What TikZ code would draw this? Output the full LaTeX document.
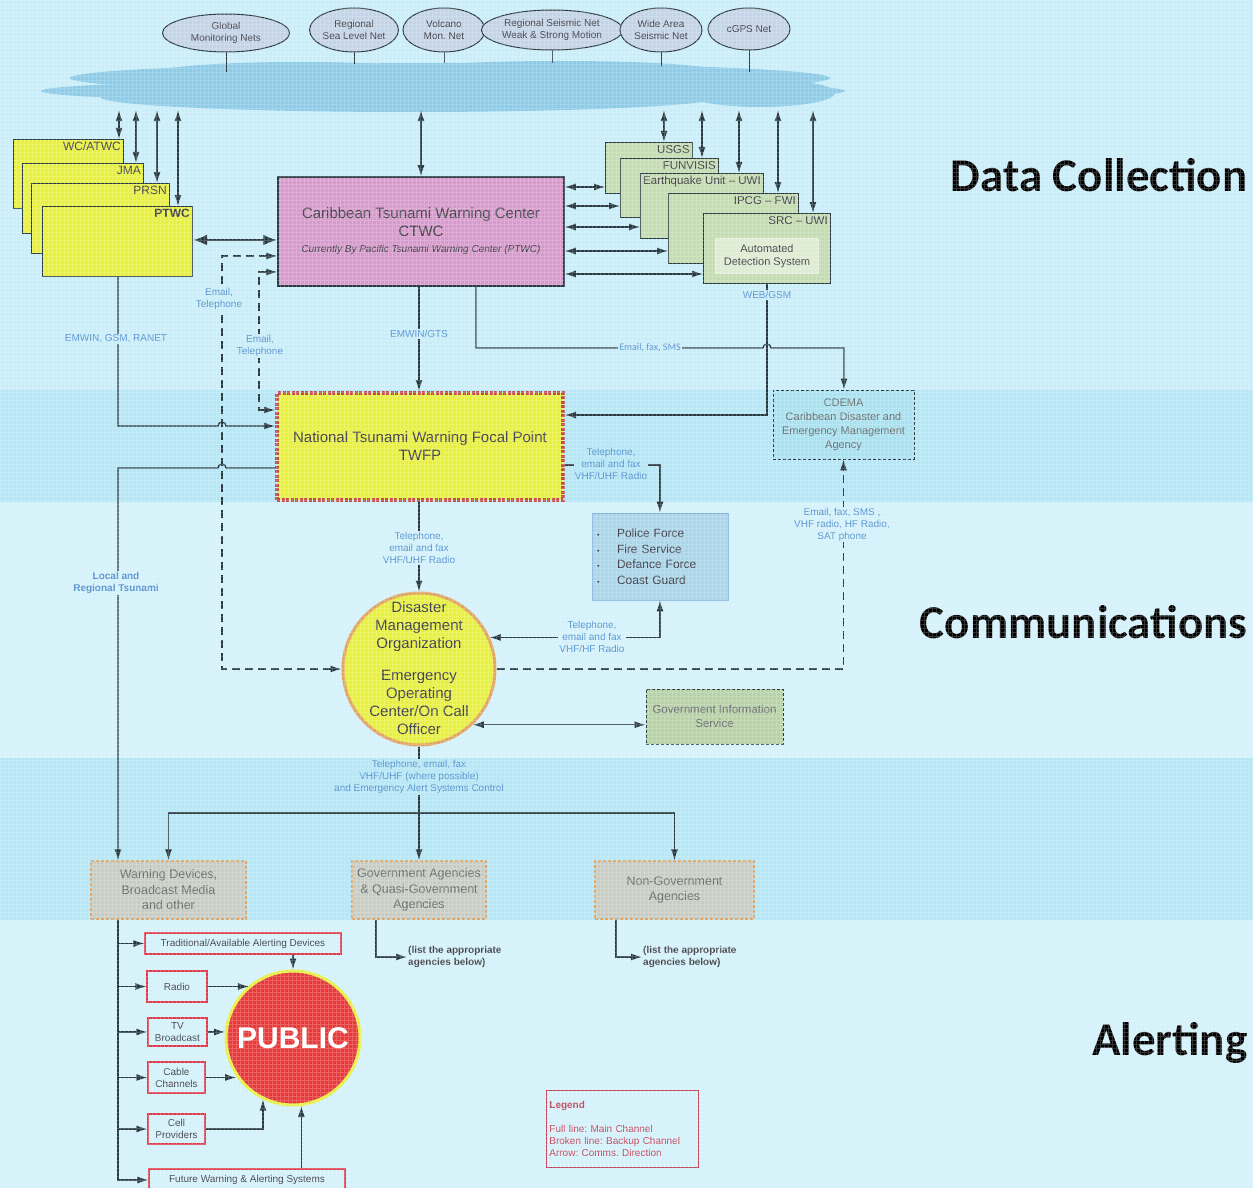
\documentclass[tikz,border=0pt]{standalone}
\usepackage{fontspec}
\setmainfont{Liberation Sans}
\newfontfamily\calib{Carlito}
\usetikzlibrary{shapes,arrows.meta,positioning,calc}
\frenchspacing

\definecolor{bgA}{RGB}{201,238,249}
\definecolor{bgB}{RGB}{181,231,246}
\definecolor{bgC}{RGB}{211,242,251}
\definecolor{lnc}{RGB}{42,58,66}
\definecolor{lblc}{RGB}{84,146,208}
\definecolor{cloudc}{RGB}{140,204,232}
\definecolor{netc}{RGB}{196,212,232}
\definecolor{ylw}{RGB}{232,240,62}
\definecolor{pinkc}{RGB}{215,154,204}
\definecolor{sage}{RGB}{196,220,178}
\definecolor{sagelt}{RGB}{222,236,210}
\definecolor{cdemac}{RGB}{168,226,240}
\definecolor{polc}{RGB}{170,214,236}
\definecolor{polb}{RGB}{124,178,220}
\definecolor{gisc}{RGB}{184,210,168}
\definecolor{grayc}{RGB}{200,205,196}
\definecolor{orgc}{RGB}{226,164,96}
\definecolor{twred}{RGB}{196,74,74}
\definecolor{redb}{RGB}{226,60,76}
\definecolor{pubc}{RGB}{232,58,58}
\definecolor{txtc}{RGB}{64,64,72}
\definecolor{gtxt}{RGB}{104,108,108}
\definecolor{legc}{RGB}{196,70,90}

\newcommand\fsz[2]{\fontsize{#1}{#2}\selectfont}
\newcommand\polbul{\makebox[20pt][l]{\fsz{7}{8}\textbullet}}

\tikzset{
  ln/.style={draw=lnc, line width=1.3pt},
  arr/.style={ln, -{Latex[length=11pt,width=7pt]}},
  dbl/.style={ln, {Latex[length=11pt,width=7pt]}-{Latex[length=11pt,width=7pt]}},
  dblthick/.style={draw=lnc, line width=2.8pt, {Latex[length=14pt,width=11pt]}-{Latex[length=14pt,width=11pt]}},
  bak/.style={dash pattern=on 8pt off 5pt},
  lbl/.style={text=lblc, font=\fsz{10}{12}, align=center, inner sep=1pt},
  net/.style={ellipse, draw=lnc, line width=1pt, fill=netc, text=txtc, font=\fsz{10}{12}, align=center, inner sep=0pt},
  ybox/.style={rectangle, draw=lnc, line width=1pt, fill=ylw, anchor=north west},
  gbox/.style={rectangle, draw=lnc, line width=1pt, fill=sage, anchor=north west},
  corner/.style={anchor=north east, inner sep=3pt, text=txtc},
  botbox/.style={rectangle, draw=orgc, line width=1.5pt, densely dashed, fill=grayc, text=gtxt, font=\fsz{12.5}{15.5}, align=center},
  redbox/.style={rectangle, draw=redb, line width=1.2pt, text=txtc, font=\fsz{10}{12}, align=center, inner sep=1pt},
  sect/.style={anchor=base east, font=\calib\bfseries\fsz{47}{50}, text=black}
}

\begin{document}
\begin{tikzpicture}[x=1pt, y=-1pt]
\fill[bgA] (0,0) rectangle (1253,390);
\fill[bgB] (0,390) rectangle (1253,502);
\fill[bgC] (0,502) rectangle (1253,758);
\fill[bgB] (0,758) rectangle (1253,920);
\fill[bgC] (0,920) rectangle (1253,1188);
\useasboundingbox (0,0) rectangle (1253,1188);

\node[net, minimum width=127pt, minimum height=38pt] (glob) at (226,33) {Global\\Monitoring Nets};
\node[net, minimum width=80pt, minimum height=44pt] (rsl) at (354,30) {Regional\\Sea Level Net};
\node[net, minimum width=82pt, minimum height=44pt] (volc) at (444,30) {Volcano\\Mon. Net};
\node[net, minimum width=118pt, minimum height=40pt] (rsn) at (552,30) {Regional Seismic Net\\Weak \& Strong Motion};
\node[net, minimum width=82pt, minimum height=44pt] (wide) at (661,30) {Wide Area\\Seismic Net};
\node[net, minimum width=82pt, minimum height=42pt] (cgps) at (749,29) {cGPS Net};

\fill[cloudc] (450,78) ellipse[x radius=380, y radius=15];
\fill[cloudc] (443,91) ellipse[x radius=402, y radius=12];
\fill[cloudc] (410,97) ellipse[x radius=310, y radius=15];
\fill[cloudc] (760,93) ellipse[x radius=75, y radius=14];
\fill[cloudc] (300,72) ellipse[x radius=140, y radius=10];
\fill[cloudc] (560,70) ellipse[x radius=150, y radius=9];
\node[minimum width=800pt, minimum height=48pt, inner sep=0pt] (cloud) at (443,86) {};

\foreach \nn/\yy in {glob/72,rsl/64,volc/63,rsn/63,wide/66,cgps/72}
  \draw[lnc, line width=1pt] (\nn.south) -- (\nn.south |- 0,\yy);

\node[ybox, minimum width=110pt, minimum height=69pt, label={[corner, font=\fsz{12}{14}]north east:WC/ATWC}] (wcatwc) at (13,139) {};
\node[ybox, minimum width=121pt, minimum height=70pt, label={[corner, font=\fsz{12}{14}]north east:JMA}] (jma) at (22,163) {};
\node[ybox, minimum width=138pt, minimum height=70pt, label={[corner, font=\fsz{12}{14}]north east:PRSN}] (prsn) at (31,183) {};
\node[ybox, minimum width=150pt, minimum height=70pt, label={[corner, font=\fsz{12}{14}\bfseries]north east:PTWC}] (ptwc) at (42,206) {};

\node[gbox, minimum width=87pt, minimum height=51pt, label={[corner, font=\fsz{11.5}{14}]north east:USGS}] (usgs) at (605,142) {};
\node[gbox, minimum width=98pt, minimum height=59pt, label={[corner, font=\fsz{11.5}{14}]north east:FUNVISIS}] (funv) at (620,158) {};
\node[gbox, minimum width=123pt, minimum height=65pt, label={[corner, font=\fsz{11.5}{14}]north east:Earthquake Unit – UWI}] (equwi) at (640,173) {};
\node[gbox, minimum width=130pt, minimum height=70pt, label={[corner, font=\fsz{11.5}{14}]north east:IPCG – FWI}] (ipcg) at (668,193) {};
\node[gbox, minimum width=127pt, minimum height=70pt, label={[corner, font=\fsz{11.5}{14}]north east:SRC – UWI}] (srcuwi) at (703,213) {};
\node[anchor=north west, minimum width=103pt, minimum height=35pt, fill=sagelt, draw=white!60!sage, line width=1pt, align=center, font=\fsz{11}{13}, text=txtc] (autodet) at (715,238) {Automated\\Detection System};

\node[rectangle, draw=lnc, line width=1.5pt, fill=pinkc, minimum width=286pt, minimum height=109pt, align=center, text=txtc, font=\fsz{15}{18}] (ctwc) at (421,231.5) {Caribbean Tsunami Warning Center\\CTWC\\[-2pt]{\fsz{10}{12}\itshape Currently By Pacific Tsunami Warning Center (PTWC)}};

\node[rectangle, fill=ylw, draw=twred, line width=4pt, dash pattern=on 3pt off 1.5pt, minimum width=286pt, minimum height=107pt, font=\fsz{15}{18}, text=txtc, align=center] (twfp) at (420,446.5) {National Tsunami Warning Focal Point\\TWFP};

\node[rectangle, draw=lnc, line width=.8pt, densely dashed, fill=cdemac, minimum width=141pt, minimum height=69pt, align=center, font=\fsz{11}{14}, text=gtxt] (cdema) at (843.5,424.5) {CDEMA\\Caribbean Disaster and\\Emergency Management\\Agency};

\node[rectangle, draw=polb, line width=.8pt, fill=polc, minimum width=136pt, minimum height=87pt, text width=126pt, inner xsep=5pt, align=left, font=\fsz{12}{15.5}, text=txtc] (police) at (660,556.5) {\polbul Police Force\\\polbul Fire Service\\\polbul Defance Force\\\polbul Coast Guard};

\node[circle, minimum size=152pt, fill=ylw, draw=orgc, line width=3pt] (dmo) at (419,669) {};
\node[align=center, font=\fsz{15}{18}, text=txtc] (dmotxt) at (419,668) {Disaster\\Management\\Organization\\[14pt]Emergency\\Operating\\Center/On Call\\Officer};

\node[rectangle, draw=lnc, line width=.8pt, densely dashed, fill=gisc, minimum width=137pt, minimum height=55pt, align=center, font=\fsz{11.5}{14}, text=gtxt] (gis) at (714.5,716.5) {Government Information\\Service};

\node[botbox, minimum width=155pt, minimum height=58pt] (warn) at (168.5,890) {Warning Devices,\\Broadcast Media\\and other};
\node[botbox, minimum width=134pt, minimum height=58pt] (gov) at (419,890) {Government Agencies\\\& Quasi-Government\\Agencies};
\node[botbox, minimum width=159pt, minimum height=58pt] (ngo) at (674.5,890) {Non-Government\\Agencies};

\node[anchor=west, align=left, font=\fsz{10}{12}\bfseries, text=txtc, inner sep=1pt] (govlist) at (407,957) {(list the appropriate\\agencies below)};
\node[anchor=west, align=left, font=\fsz{10}{12}\bfseries, text=txtc, inner sep=1pt] (ngolist) at (642,957) {(list the appropriate\\agencies below)};

\node[redbox, minimum width=196pt, minimum height=21pt] (trad) at (243,943.5) {Traditional/Available Alerting Devices};
\node[redbox, minimum width=60pt, minimum height=31pt] (radio) at (177,986.5) {Radio};
\node[redbox, minimum width=59pt, minimum height=28pt] (tv) at (177.5,1032) {TV\\Broadcast};
\node[redbox, minimum width=57pt, minimum height=31pt] (cable) at (176.5,1077.5) {Cable\\Channels};
\node[redbox, minimum width=57pt, minimum height=30pt] (cell) at (176.5,1129) {Cell\\Providers};
\node[redbox, minimum width=196pt, minimum height=22pt] (future) at (247,1180) {Future Warning \& Alerting Systems};

\node[circle, minimum size=134pt, inner sep=0pt, fill=pubc, draw=ylw, line width=3pt, text=white, font=\fsz{30}{32}\bfseries] (public) at (293,1038) {PUBLIC};

\node[draw=legc, line width=.8pt, anchor=north west, minimum width=152pt, minimum height=77pt, text width=146pt, inner xsep=2pt, align=left, text=legc, font=\fsz{10}{12}] (legend) at (546,1090) {\textbf{Legend}\\[12pt]Full line: Main Channel\\Broken line: Backup Channel\\Arrow: Comms. Direction};

\node[sect] (secdata) at (1251,191) {Data Collection};
\node[sect] (seccomm) at (1251,638) {Communications};
\node[sect] (secalert) at (1251,1055) {Alerting};

\foreach \xx/\tgt in {119/wcatwc,136/jma,157/prsn,178/ptwc,664/usgs,702/funv,739/equwi,778/ipcg,813/srcuwi}
  \draw[dbl] (cloud.south -| \xx,0) -- (\tgt.north -| \xx,0);
\draw[dbl] (cloud.south -| ctwc.north) -- (ctwc.north);

\foreach \yy/\tgt in {187/usgs,206/funv,227/equwi,251/ipcg,274/srcuwi}
  \draw[dbl] (ctwc.east |- 0,\yy) -- (\tgt.west |- 0,\yy);
\draw[dblthick] (ptwc.east |- 0,240) -- (ctwc.west |- 0,240);

\draw[dbl, bak] (ctwc.west |- 0,256) -| (222,669) -- (dmo.west);
\draw[dbl, bak] (ctwc.west |- 0,272) -| (259,410) -- (twfp.west |- 0,410);

\draw[arr] (ptwc.south -| 118,0) -- (118,426) -- (218,426) arc[start angle=180, end angle=0, radius=4pt] -- (twfp.west |- 0,426);
\draw[arr] (twfp.west |- 0,468) -- (226,468) arc[start angle=0, end angle=180, radius=4pt] -- (118,468) -- (warn.north -| 118,0);

\draw[arr] (ctwc.south -| 419,0) -- (twfp.north -| 419,0);
\draw[arr] (ctwc.south -| 476,0) -- (476,348) -- (763,348) arc[start angle=180, end angle=0, radius=4pt] -- (844,348) -- (cdema.north -| 844,0);
\draw[arr] (srcuwi.south -| 767,0) -- (767,415) -- (twfp.east |- 0,415);

\draw[arr] (twfp.east |- 0,465) -| (police.north);
\draw[arr] (twfp.south -| dmo.north) -- (dmo.north);
\draw[dbl] (police.south) |- (dmo.24);
\draw[arr, bak] (dmo.east) -| (cdema.south);
\draw[dbl] (dmo.-46) -- (gis.west |- dmo.-46);

\coordinate (split) at (419,813);
\draw[ln] (dmo.south) -- (split);
\draw[arr] (split) -| (warn.north);
\draw[arr] (split) -- (gov.north);
\draw[arr] (split) -| (ngo.north);

\draw[arr] (gov.south -| 376,0) |- (govlist.west);
\draw[arr] (ngo.south -| 616,0) |- (ngolist.west);

\foreach \tgt in {trad,radio,tv,cable,cell,future}
  \draw[arr] (warn.south -| 118,0) |- (\tgt.west);

\draw[arr] (trad.south -| public.north) -- (public.north);
\draw[arr] (radio.east) -- (radio.east -| public.130);
\draw[arr] (tv.east) -- (tv.east -| public.172);
\draw[arr] (cable.east) -- (cable.east -| public.214);
\draw[arr] (cell.east) -| (public.244);
\draw[arr] (future.north -| public.277) -- (public.277);

\node[lbl, fill=bgA] (lemwin) at (116,339) {EMWIN, GSM, RANET};
\node[lbl, fill=bgA] (lmail1) at (219,299) {Email,\\Telephone};
\node[lbl, fill=bgA] (lmail2) at (260,346) {Email,\\Telephone};
\node[lbl, fill=bgA] (lgts) at (419,334) {EMWIN/GTS};
\node[lbl, fill=bgA, font=\calib\fsz{10}{12}] (lsms) at (650,348) {Email, fax, SMS};
\node[lbl, fill=bgA] (lweb) at (767,295) {WEB/GSM};
\node[lbl, fill=bgB] (lpol) at (611,464) {Telephone,\\email and fax\\VHF/UHF Radio};
\node[lbl, fill=bgC] (ldmo) at (419,548) {Telephone,\\email and fax\\VHF/UHF Radio};
\node[lbl, fill=bgC] (lpold) at (592,637) {Telephone,\\email and fax\\VHF/HF Radio};
\node[lbl, fill=bgC] (lcdema) at (842,524.5) {Email, fax, SMS ,\\VHF radio, HF Radio,\\SAT phone};
\node[lbl, fill=bgC, font=\fsz{10}{12}\bfseries] (llocal) at (116,583) {Local and\\Regional Tsunami};
\node[lbl, fill=bgB] (lalert) at (419,777) {Telephone, email, fax\\VHF/UHF (where possible)\\and Emergency Alert Systems Control};

\draw[white, opacity=.2, line width=.5pt] (0,0) grid[step=4pt] (1253,1188);
\end{tikzpicture}
\end{document}
